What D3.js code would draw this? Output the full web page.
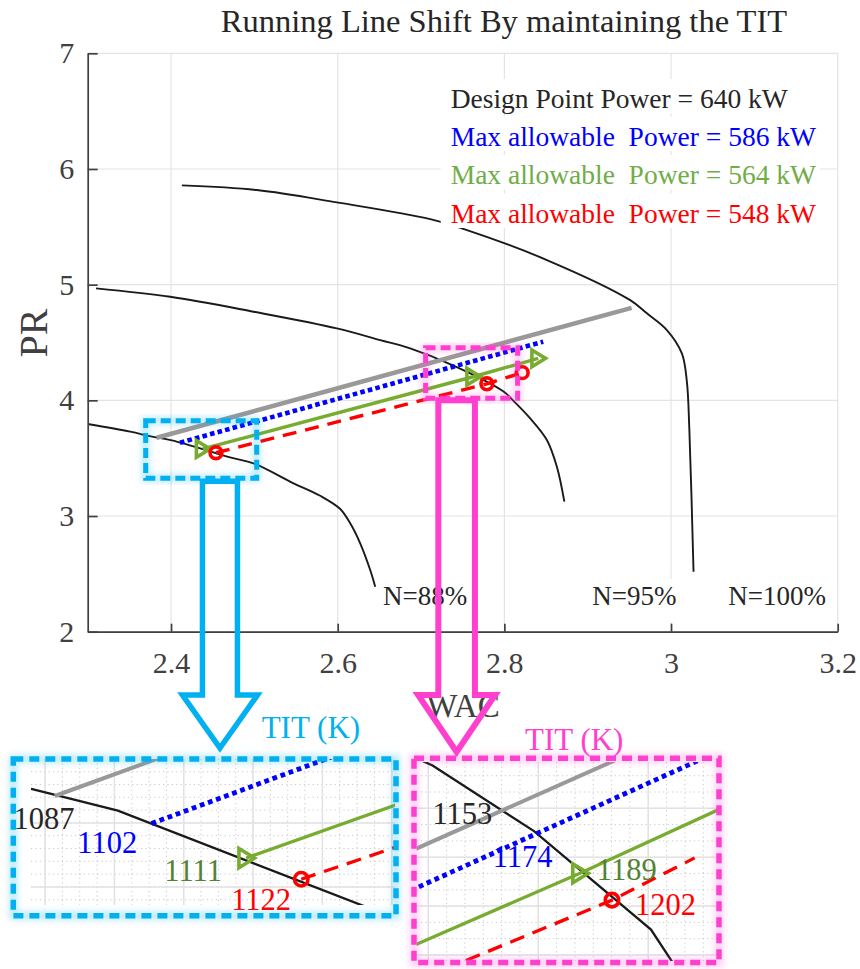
<!DOCTYPE html>
<html>
<head>
<meta charset="utf-8">
<script src="https://cdn.jsdelivr.net/npm/d3@7"></script>
<style>
  html, body { margin: 0; padding: 0; background: #fff; }
  svg { display: block; font-family: "Liberation Serif", "Times New Roman", serif; }
  .pre { white-space: pre; }
</style>
</head>
<body>
<svg id="chart" width="860" height="969"></svg>
<script>
// ---- constant-speed lines of the compressor map: [WAC, PR]
const speed88 = [[2.300,3.795],[2.351,3.729],[2.376,3.688],[2.401,3.654],[2.472,3.505],[2.499,3.455],[2.547,3.283],[2.579,3.175],[2.603,3.061],[2.615,2.937],[2.627,2.764],[2.639,2.533],[2.645,2.389]];
const speed95 = [[2.310,4.968],[2.399,4.895],[2.499,4.766],[2.599,4.622],[2.651,4.521],[2.687,4.449],[2.739,4.300],[2.799,4.076],[2.810,4.002],[2.831,3.844],[2.851,3.657],[2.863,3.426],[2.872,3.124]];
const speed100 = [[2.413,5.858],[2.503,5.818],[2.599,5.711],[2.711,5.567],[2.749,5.487],[2.851,5.213],[2.951,4.866],[2.971,4.752],[2.995,4.608],[3.013,4.406],[3.019,4.161],[3.022,3.743],[3.027,2.519]];
const speedLabels = [
  { text: "N=88%",  x: 2.6543, y: 2.231 },
  { text: "N=95%",  x: 2.9054, y: 2.231 },
  { text: "N=100%", x: 3.0686, y: 2.231 }
];

// ---- running lines (WAC, PR)
const runDesign = [[2.3828,3.677],[2.9527,4.800]];
const run586 = [[2.4107,3.634],[2.8466,4.507]];
const run564 = [[2.438,3.580],[2.7626,4.204],[2.8406,4.363]];
const run548 = [[2.4539,3.547],[2.779,4.143],[2.8214,4.239]];

// ---- power statements
const legendLines = [
  { text: "Design Point Power = 640 kW",        color: "#262626" },
  { text: "Max allowable  Power = 586 kW",      color: "#0000ff" },
  { text: "Max allowable  Power = 564 kW",      color: "#70ad47" },
  { text: "Max allowable  Power = 548 kW",      color: "#ff0000" }
];

// ---- axis ticks
const xTicks = [2.4, 2.6, 2.8, 3.0, 3.2];
const yTicks = [2, 3, 4, 5, 6, 7];

// ---- turbine inlet temperatures at the 88% and 95% speed crossings
const titLow = [
  { text: "1087", x: 2.3709, y: 3.6254, color: "#262626" },
  { text: "1102", x: 2.3893, y: 3.5884, color: "#0000ff" },
  { text: "1111", x: 2.4144, y: 3.5447, color: "#548235" },
  { text: "1122", x: 2.4337, y: 3.4989, color: "#ff0000" }
];
const titHigh = [
  { text: "1153", x: 2.6869, y: 4.316,  color: "#262626" },
  { text: "1174", x: 2.7178, y: 4.219,  color: "#0000ff" },
  { text: "1189", x: 2.7712, y: 4.1888, color: "#548235" },
  { text: "1202", x: 2.7908, y: 4.1092, color: "#ff0000" }
];

// ---- highlighted regions on the map
const regionLow  = { x0: 2.3696, x1: 2.5028, y0: 3.326, y1: 3.824, color: "#00b0f0", arrowX: 2.4587 };
const regionHigh = { x0: 2.7055, x1: 2.8159, y0: 4.017, y1: 4.4546, color: "#ff40cf", arrowX: 2.7427 };

const SERIF = '"Liberation Serif", "Times New Roman", serif';
const C_GRAY = "#999999", C_BLUE = "#0000ff", C_GREEN = "#77ac30", C_RED = "#ff0000";

const svg = d3.select("#chart");
const defs = svg.append("defs");
defs.append("filter").attr("id", "haze")
  .attr("x", "-10%").attr("y", "-10%").attr("width", "120%").attr("height", "120%")
  .append("feGaussianBlur").attr("stdDeviation", 3);

// ===== main axes =====
const x = d3.scaleLinear().domain([2.3, 3.2]).range([87.7, 837.7]);
const y = d3.scaleLinear().domain([2, 7]).range([631.7, 53.3]);

defs.append("clipPath").attr("id", "mainClip").append("rect")
  .attr("x", x(2.3)).attr("y", y(7) - 10).attr("width", x(3.2) - x(2.3)).attr("height", y(2) - y(7) + 10);

// grid
const grid = svg.append("g").attr("stroke", "#e4e4e4").attr("stroke-width", 1.2);
grid.selectAll("line.v").data(xTicks).join("line").attr("class", "v")
  .attr("x1", d => x(d)).attr("x2", d => x(d)).attr("y1", y(2)).attr("y2", y(7));
grid.selectAll("line.h").data(yTicks).join("line").attr("class", "h")
  .attr("x1", x(2.3)).attr("x2", x(3.2)).attr("y1", d => y(d)).attr("y2", d => y(d));

function drawMap(g, sx, sy, opt) {
  const lin = d3.line().x(d => sx(d[0])).y(d => sy(d[1]));
  const smooth = opt.smooth ? d3.line().x(d => sx(d[0])).y(d => sy(d[1])).curve(d3.curveCatmullRom.alpha(0.5)) : lin;
  g.selectAll("path.speed").data([speed88, speed95, speed100]).join("path").attr("class", "speed")
    .attr("d", smooth).attr("fill", "none").attr("stroke", "#1a1a1a").attr("stroke-width", opt.blackW);
  g.append("path").datum(runDesign).attr("d", lin).attr("fill", "none")
    .attr("stroke", C_GRAY).attr("stroke-width", opt.grayW);
  g.append("path").datum(run586).attr("d", lin).attr("fill", "none")
    .attr("stroke", C_BLUE).attr("stroke-width", opt.dotW).attr("stroke-dasharray", opt.dotDash);
  g.append("path").datum(run564).attr("d", lin).attr("fill", "none")
    .attr("stroke", C_GREEN).attr("stroke-width", opt.lineW);
  g.append("path").datum(run548).attr("d", lin).attr("fill", "none")
    .attr("stroke", C_RED).attr("stroke-width", opt.lineW).attr("stroke-dasharray", opt.dashDash);
  const keep = opt.keep || (() => true);
  const s = opt.mk;
  g.selectAll("path.tri").data(run564.filter(keep)).join("path").attr("class", "tri")
    .attr("transform", d => `translate(${sx(d[0])},${sy(d[1])})`)
    .attr("d", `M${-6*s},${-8*s}L${7*s},0L${-6*s},${8*s}Z`)
    .attr("fill", "none").attr("stroke", C_GREEN).attr("stroke-width", opt.mkW);
  g.selectAll("circle.mk").data(run548.filter(keep)).join("circle").attr("class", "mk")
    .attr("cx", d => sx(d[0])).attr("cy", d => sy(d[1])).attr("r", 5.6 * s)
    .attr("fill", "none").attr("stroke", C_RED).attr("stroke-width", opt.mkW);
}

const plot = svg.append("g").attr("clip-path", "url(#mainClip)");
drawMap(plot, x, y, { smooth: true, blackW: 1.9, grayW: 4.5, dotW: 4.6, dotDash: "4.6,3.2", lineW: 3.4,
  dashDash: "14,9", mk: 1.05, mkW: 3.6 });

// speed labels with white background
const spd = svg.append("g");
speedLabels.forEach(l => {
  const t = spd.append("text").attr("x", x(l.x)).attr("y", y(l.y))
    .attr("font-size", 27).attr("fill", "#262626").text(l.text);
  const b = t.node().getBBox();
  spd.insert("rect", "text").attr("x", b.x - 4).attr("y", b.y - 2)
    .attr("width", b.width + 8).attr("height", y(2) - 9 - (b.y - 2)).attr("fill", "#fff");
});

// power statements with white background
const leg = svg.append("g");
const legBase = [108, 145.5, 184, 222.5];
legendLines.forEach((l, i) => {
  const t = leg.append("text").attr("class", "pre").attr("x", 450.7).attr("y", legBase[i])
    .attr("font-size", 27.5).attr("fill", l.color).text(l.text);
  const b = t.node().getBBox();
  leg.insert("rect", "text").attr("x", b.x - 10).attr("y", legBase[i] - 29)
    .attr("width", b.width + 14).attr("height", 34.5).attr("fill", "#fff");
});

// axes
const axStyle = g => {
  g.attr("font-family", SERIF);
  g.select(".domain").attr("stroke", "#404040").attr("stroke-width", 1.7);
  g.selectAll(".tick line").attr("stroke", "#404040").attr("stroke-width", 1.7);
  g.selectAll(".tick text").attr("font-family", SERIF).attr("font-size", 30).attr("fill", "#404040");
};
svg.append("g").attr("transform", `translate(0,${y(2)})`)
  .call(d3.axisBottom(x).tickValues(xTicks).tickFormat(d3.format("~g")).tickSizeInner(-8).tickSizeOuter(0).tickPadding(20))
  .call(axStyle);
svg.append("g").attr("transform", `translate(${x(2.3)},0)`)
  .call(d3.axisLeft(y).tickValues(yTicks).tickFormat(d3.format("~g")).tickSizeInner(-10).tickSizeOuter(0).tickPadding(13.5))
  .call(axStyle);

svg.append("text").attr("transform", `translate(47,333) rotate(-90)`).attr("text-anchor", "middle")
  .attr("font-size", 40).attr("fill", "#404040").text("PR");
svg.append("text").attr("x", 463).attr("y", 717).attr("text-anchor", "middle")
  .attr("font-size", 33).attr("fill", "#404040").text("WAC");

svg.append("text").attr("x", 504).attr("y", 32).attr("text-anchor", "middle")
  .attr("font-size", 32.5).attr("fill", "#262626").text("Running Line Shift By maintaining the TIT");

// ===== highlighted regions, arrows and zoomed views =====
function dashedBox(g, x0, y0, x1, y1, color, w, dash) {
  g.append("rect").attr("x", x0).attr("y", y0).attr("width", x1 - x0).attr("height", y1 - y0)
    .attr("fill", "none").attr("stroke", color).attr("stroke-width", w + 3).attr("opacity", 0.25)
    .attr("filter", "url(#haze)");
  g.append("rect").attr("x", x0).attr("y", y0).attr("width", x1 - x0).attr("height", y1 - y0)
    .attr("fill", "none").attr("stroke", color).attr("stroke-width", w).attr("stroke-dasharray", dash);
}

function arrow(g, cx, top, headTop, tip, hs, hh, color, w) {
  const pts = [[cx - hs, top], [cx + hs, top], [cx + hs, headTop], [cx + hh, headTop], [cx, tip],
               [cx - hh, headTop], [cx - hs, headTop]];
  g.append("path").attr("d", "M" + pts.map(p => p.join(",")).join("L") + "Z")
    .attr("fill", "none").attr("stroke", color).attr("stroke-width", w).attr("stroke-linejoin", "miter");
}

function zoomView(cfg) {
  const g = svg.append("g");
  const sx = d3.scaleLinear().domain(cfg.dx).range([cfg.px0, cfg.px1]);
  const sy = d3.scaleLinear().domain(cfg.dy).range([cfg.py1, cfg.py0]);
  const id = "clip" + cfg.id;
  defs.append("clipPath").attr("id", id).append("rect")
    .attr("x", cfg.px0).attr("y", cfg.py0).attr("width", cfg.px1 - cfg.px0).attr("height", cfg.py1 - cfg.py0);
  const inner = g.append("g").attr("clip-path", `url(#${id})`);
  // minor then major grid
  const range = (a, step, lo, hi) => {
    const out = [];
    const k0 = Math.ceil((lo - a) / step - 1e-9), k1 = Math.floor((hi - a) / step + 1e-9);
    for (let k = k0; k <= k1; k++) out.push(a + k * step);
    return out;
  };
  const gx = cfg.gridX, gy = cfg.gridY;
  const minX = range(gx[0], gx[1] / gx[2], cfg.dx[0], cfg.dx[1]);
  const minY = range(gy[0], gy[1] / gy[2], cfg.dy[0], cfg.dy[1]);
  inner.selectAll("line.mx").data(minX).join("line").attr("class", "mx")
    .attr("x1", d => sx(d)).attr("x2", d => sx(d)).attr("y1", cfg.py0).attr("y2", cfg.py1)
    .attr("stroke", "#c8c8c8").attr("stroke-width", 1).attr("stroke-dasharray", "1.2,3.2");
  inner.selectAll("line.my").data(minY).join("line").attr("class", "my")
    .attr("y1", d => sy(d)).attr("y2", d => sy(d)).attr("x1", cfg.px0).attr("x2", cfg.px1)
    .attr("stroke", "#c8c8c8").attr("stroke-width", 1).attr("stroke-dasharray", "1.2,3.2");
  inner.selectAll("line.Mx").data(range(gx[0], gx[1], cfg.dx[0], cfg.dx[1])).join("line").attr("class", "Mx")
    .attr("x1", d => sx(d)).attr("x2", d => sx(d)).attr("y1", cfg.py0).attr("y2", cfg.py1)
    .attr("stroke", "#e2e2e2").attr("stroke-width", 1.5);
  inner.selectAll("line.My").data(range(gy[0], gy[1], cfg.dy[0], cfg.dy[1])).join("line").attr("class", "My")
    .attr("y1", d => sy(d)).attr("y2", d => sy(d)).attr("x1", cfg.px0).attr("x2", cfg.px1)
    .attr("stroke", "#e2e2e2").attr("stroke-width", 1.5);
  const r = cfg.region;
  drawMap(inner, sx, sy, {
    smooth: false, blackW: 2.3, grayW: 4, dotW: 4.8, dotDash: "4.8,3.8", lineW: 3.3, dashDash: "15,9", mk: 1.2, mkW: 3.6,
    keep: d => d[0] >= r.x0 && d[0] <= r.x1 && d[1] >= r.y0 && d[1] <= r.y1
  });
  g.selectAll("text.tit").data(cfg.labels).join("text").attr("class", "tit")
    .attr("x", d => sx(d.x)).attr("y", d => sy(d.y)).attr("font-size", 30.5)
    .attr("fill", d => d.color).text(d => d.text);
  const f = cfg.frame;
  dashedBox(svg, f[0], f[1], f[2], f[3], r.color, 5.5, "10,6");
  svg.append("text").attr("x", cfg.titleX).attr("y", cfg.titleY).attr("font-size", 31)
    .attr("fill", r.color).text("TIT (K)");
}

zoomView({
  id: "Low", region: regionLow, labels: titLow,
  px0: 31, px1: 395, py0: 759, py1: 905,
  dx: [2.37594, 2.48094], dy: [3.5067, 3.7348],
  gridX: [2.38, 0.02, 4], gridY: [3.635, 0.1, 5],
  frame: [13.3, 759, 396, 915.7], titleX: 261.7, titleY: 738
});
zoomView({
  id: "High", region: regionHigh, labels: titHigh,
  px0: 416.7, px1: 718, py0: 762, py1: 961,
  dx: [2.67886, 2.83337], dy: [4.00468, 4.45695],
  gridX: [2.6848, 0.0564, 6], gridY: [4.3517, 0.1111, 3],
  frame: [414, 758.3, 719, 962.5], titleX: 525, titleY: 750
});

// region boxes on the map and arrows down to the zoomed views
[regionLow, regionHigh].forEach(r => {
  dashedBox(svg, x(r.x0), y(r.y1), x(r.x1), y(r.y0), r.color, 5, "10,5");
});
arrow(svg, x(regionLow.arrowX), y(regionLow.y0) + 3, 695, 748, 17.5, 37.5, regionLow.color, 5.5);
arrow(svg, x(regionHigh.arrowX), y(regionHigh.y0) + 2, 695, 752, 18.3, 38.5, regionHigh.color, 6);
</script>
</body>
</html>
